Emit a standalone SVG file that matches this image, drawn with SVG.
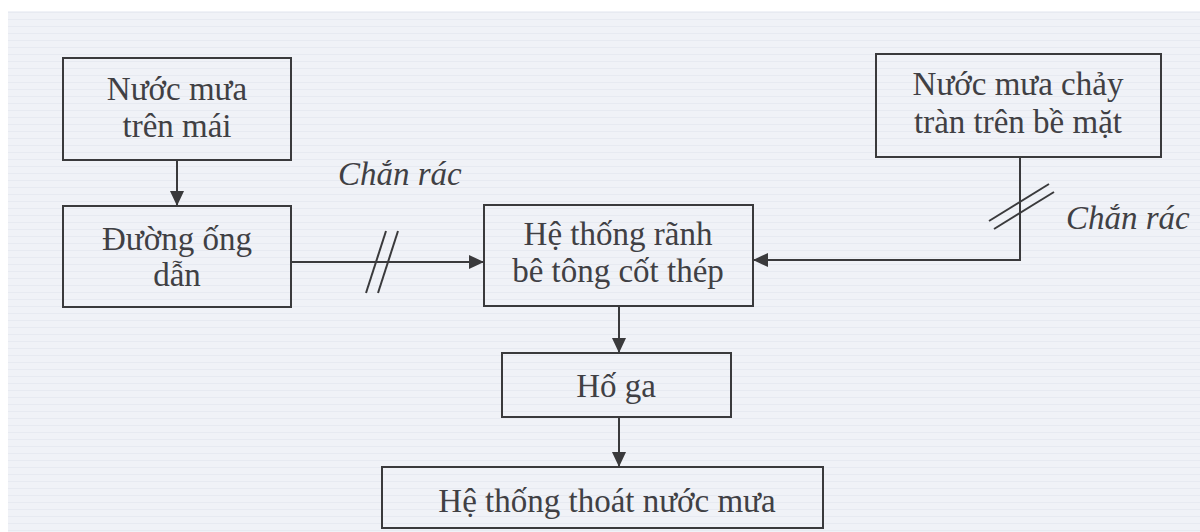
<svg xmlns="http://www.w3.org/2000/svg" width="1200" height="532" viewBox="0 0 1200 532">
  <defs>
    <marker id="arrow" markerWidth="15" markerHeight="14" refX="14" refY="7" orient="auto" markerUnits="userSpaceOnUse">
      <path d="M0,0 L15,7 L0,14 Z" fill="#3a3a3c"/>
    </marker>
    <pattern id="paper" width="1200" height="7" patternUnits="userSpaceOnUse">
      <rect width="1200" height="7" fill="#f0f2f7"/>
      <rect y="5" width="1200" height="1" fill="#e7eaf1"/>
    </pattern>
  </defs>
  <style>
    .box { fill: none; stroke: #3a3a3c; stroke-width: 2; }
    .lbl { font-family: "Liberation Serif", "Times New Roman", serif; font-size: 33px; fill: #404044; text-anchor: middle; }
    .note { font-family: "Liberation Serif", "Times New Roman", serif; font-size: 33px; font-style: italic; fill: #404044; }
    .wire { fill: none; stroke: #3a3a3c; stroke-width: 2; }
  </style>

  <!-- paper -->
  <rect width="1200" height="532" fill="#ffffff"/>
  <rect x="8" y="11" width="1192" height="521" fill="url(#paper)"/>

  <!-- connectors -->
  <g id="connectors">
    <line class="wire" x1="177" y1="160" x2="177" y2="205" marker-end="url(#arrow)"/>
    <line class="wire" x1="291" y1="262" x2="483" y2="262" marker-end="url(#arrow)"/>
    <path class="wire" d="M1020,157 L1020,260 L754,260" marker-end="url(#arrow)"/>
    <line class="wire" x1="619" y1="306" x2="619" y2="352" marker-end="url(#arrow)"/>
    <line class="wire" x1="619" y1="417" x2="619" y2="466" marker-end="url(#arrow)"/>
    <!-- trash screens -->
    <line class="wire" x1="366" y1="293" x2="386" y2="231"/>
    <line class="wire" x1="378" y1="293" x2="398" y2="231"/>
    <line class="wire" x1="989" y1="221" x2="1049" y2="184"/>
    <line class="wire" x1="994" y1="229" x2="1054" y2="192"/>
    <text class="note" x="338" y="185">Chắn rác</text>
    <text class="note" x="1066" y="229">Chắn rác</text>
  </g>

  <g id="roof-rain">
    <rect class="box" x="63" y="58" width="228" height="102"/>
    <text class="lbl" x="177" y="100">Nước mưa</text>
    <text class="lbl" x="177" y="137">trên mái</text>
  </g>

  <g id="pipe">
    <rect class="box" x="63" y="206" width="228" height="101"/>
    <text class="lbl" x="177" y="250">Đường ống</text>
    <text class="lbl" x="177" y="286">dẫn</text>
  </g>

  <g id="surface-runoff">
    <rect class="box" x="876" y="54" width="285" height="103"/>
    <text class="lbl" x="1018" y="95">Nước mưa chảy</text>
    <text class="lbl" x="1018" y="133">tràn trên bề mặt</text>
  </g>

  <g id="channel">
    <rect class="box" x="484" y="205" width="269" height="101"/>
    <text class="lbl" x="618" y="245">Hệ thống rãnh</text>
    <text class="lbl" x="618" y="282">bê tông cốt thép</text>
  </g>

  <g id="manhole">
    <rect class="box" x="502" y="353" width="229" height="64"/>
    <text class="lbl" x="616" y="397">Hố ga</text>
  </g>

  <g id="drainage">
    <rect class="box" x="382" y="467" width="441" height="61"/>
    <text class="lbl" x="607" y="512">Hệ thống thoát nước mưa</text>
  </g>
</svg>
